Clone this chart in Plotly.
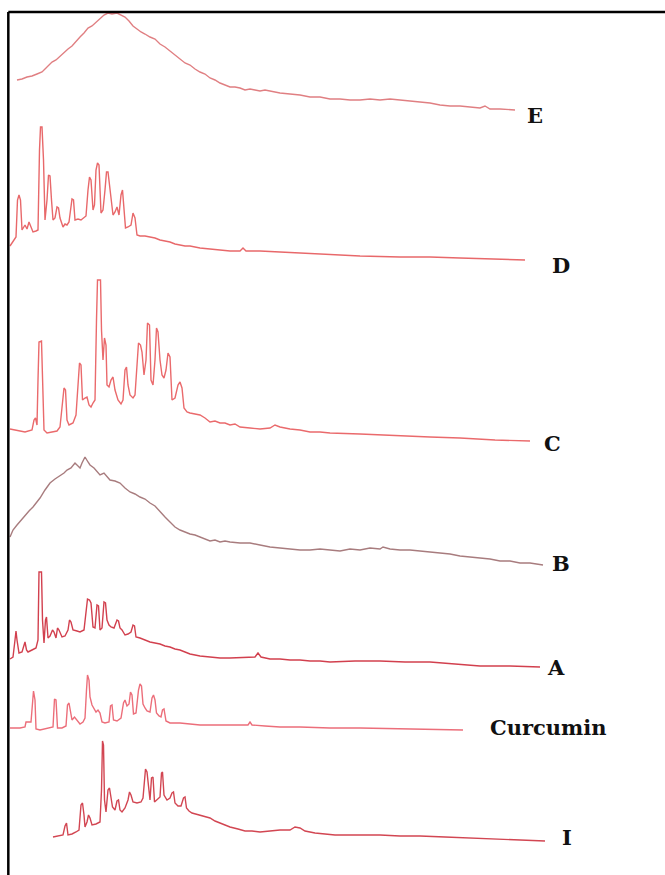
import plotly.graph_objects as go

# ---- Data: XRD patterns, (2-theta in degrees, intensity in a.u.) ----
samples = ["E", "D", "C", "B", "A", "Curcumin", "I"]

pattern_E = [
    (4.7, 32), (5.2, 33), (5.7, 35), (6.2, 36), (6.7, 38), (7.2, 40), (7.5, 43), (7.8, 46),
    (8.2, 50), (8.6, 52), (9.0, 56), (9.4, 59), (9.8, 63), (10.2, 66), (10.6, 71), (11.0, 75),
    (11.4, 79), (11.8, 84), (12.2, 86), (12.6, 90), (13.0, 93), (13.4, 97), (13.8, 99),
    (14.2, 98), (14.7, 99), (15.1, 97), (15.5, 95), (15.9, 91), (16.3, 86), (16.7, 83),
    (17.1, 80), (17.5, 78), (18.0, 75), (18.5, 73), (19.0, 68), (19.5, 65), (20.0, 61),
    (20.5, 57), (21.0, 53), (21.5, 49), (22.0, 47), (22.5, 43), (23.0, 40), (23.5, 38),
    (24.0, 34), (24.5, 32), (25.0, 29), (25.5, 27), (26.0, 25), (26.5, 25), (27.0, 24),
    (27.5, 22), (28.0, 23), (28.5, 22), (29.0, 21), (29.5, 22), (30.0, 21), (31.0, 19),
    (32.0, 18), (33.0, 17), (34.0, 15), (35.0, 15), (36.0, 13), (37.0, 13), (38.0, 12),
    (39.0, 12), (40.0, 13), (41.0, 12), (42.0, 13), (43.0, 12), (44.0, 11), (45.0, 10),
    (46.0, 9), (47.0, 7), (48.0, 6), (49.0, 6), (50.0, 5), (51.0, 4), (51.5, 6), (52.0, 3),
    (53.0, 3), (54.5, 2),
]

pattern_D = [
    (4.0, 16), (4.4, 22), (4.6, 25), (4.75, 62), (4.9, 67), (5.05, 62), (5.2, 32), (5.5, 37),
    (5.7, 33), (5.9, 40), (6.1, 34), (6.3, 30), (6.6, 31), (6.8, 32), (6.95, 112), (7.05, 135),
    (7.2, 135), (7.35, 102), (7.5, 42), (7.7, 62), (7.85, 87), (8.0, 86), (8.15, 62), (8.3, 42),
    (8.5, 44), (8.7, 55), (8.85, 54), (9.0, 44), (9.3, 35), (9.5, 38), (9.7, 37), (9.9, 40),
    (10.2, 63), (10.35, 62), (10.5, 42), (10.8, 43), (11.1, 42), (11.4, 44), (11.6, 46),
    (11.8, 72), (11.95, 85), (12.1, 82), (12.2, 62), (12.3, 52), (12.45, 57), (12.6, 92),
    (12.75, 99), (12.9, 97), (13.1, 49), (13.3, 52), (13.5, 72), (13.65, 90), (13.8, 90),
    (13.95, 77), (14.1, 65), (14.3, 47), (14.5, 50), (14.7, 55), (14.9, 47), (15.1, 67),
    (15.25, 72), (15.4, 52), (15.55, 34), (15.8, 35), (16.1, 37), (16.3, 49), (16.5, 44),
    (16.7, 27), (17.0, 26), (17.5, 26), (18.0, 25), (18.5, 24), (19.0, 22), (19.5, 21),
    (20.0, 20), (20.5, 18), (21.0, 17), (21.5, 16), (22.0, 16), (22.5, 15), (23.0, 14),
    (24.0, 13), (25.0, 12), (26.0, 11), (27.0, 11), (27.3, 14), (27.6, 11), (29.0, 11),
    (31.0, 10), (33.0, 9), (36.0, 7), (39.0, 6), (43.0, 5), (46.0, 5), (49.0, 4), (52.0, 3),
    (55.5, 2),
]

pattern_C = [
    (4.0, 13), (5.0, 11), (5.5, 10), (6.2, 12), (6.4, 22), (6.55, 24), (6.7, 17), (6.8, 62),
    (6.9, 100), (7.15, 101), (7.25, 62), (7.4, 12), (7.7, 9), (8.2, 10), (8.7, 11), (9.0, 15),
    (9.2, 32), (9.4, 54), (9.55, 52), (9.7, 22), (9.9, 17), (10.3, 19), (10.6, 27), (10.8, 52),
    (10.95, 79), (11.1, 77), (11.25, 42), (11.5, 44), (11.7, 45), (11.9, 37), (12.1, 35),
    (12.3, 39), (12.5, 42), (12.65, 122), (12.75, 162), (13.05, 162), (13.15, 112), (13.3, 82),
    (13.45, 104), (13.6, 97), (13.7, 57), (13.9, 55), (14.1, 62), (14.3, 65), (14.5, 52),
    (14.8, 42), (15.1, 38), (15.3, 42), (15.5, 72), (15.65, 75), (15.8, 57), (16.0, 47),
    (16.3, 44), (16.5, 47), (16.7, 72), (16.85, 99), (17.05, 97), (17.2, 90), (17.4, 67),
    (17.6, 82), (17.75, 119), (17.95, 117), (18.1, 62), (18.3, 57), (18.5, 82), (18.65, 114),
    (18.8, 110), (19.0, 82), (19.2, 67), (19.4, 64), (19.6, 72), (19.8, 89), (20.0, 85),
    (20.2, 42), (20.5, 44), (20.8, 57), (21.0, 60), (21.2, 54), (21.4, 34), (21.7, 30),
    (22.0, 29), (22.5, 28), (23.0, 27), (23.5, 24), (24.0, 20), (24.5, 21), (25.0, 19),
    (25.5, 19), (26.0, 17), (26.5, 18), (27.0, 15), (28.0, 14), (29.0, 13), (30.0, 14),
    (30.5, 17), (31.0, 15), (32.0, 13), (33.0, 12), (34.0, 10), (35.0, 10), (36.0, 9),
    (39.0, 8), (43.0, 6), (46.0, 5), (49.0, 4), (52.5, 2), (56.0, 1),
]

pattern_B = [
    (4.0, 29), (4.3, 36), (4.7, 41), (5.1, 46), (5.5, 51), (5.9, 55), (6.3, 59), (6.7, 64),
    (7.0, 68), (7.5, 76), (8.0, 83), (8.5, 87), (9.0, 90), (9.4, 93), (9.7, 96), (10.1, 98),
    (10.5, 103), (10.8, 100), (11.0, 98), (11.2, 103), (11.5, 109), (11.8, 104), (12.0, 101),
    (12.4, 98), (12.7, 94), (13.0, 91), (13.4, 93), (13.7, 89), (14.0, 86), (14.5, 85),
    (15.0, 83), (15.5, 78), (16.0, 74), (16.5, 72), (17.0, 69), (17.5, 67), (18.0, 63),
    (18.5, 60), (19.0, 54), (19.5, 49), (20.0, 44), (20.5, 39), (21.0, 36), (21.5, 34),
    (22.0, 32), (22.5, 31), (23.0, 29), (23.5, 27), (24.0, 25), (24.5, 26), (25.0, 24),
    (25.5, 25), (26.0, 24), (27.0, 23), (28.0, 23), (29.0, 21), (30.0, 19), (31.0, 18),
    (32.0, 17), (33.0, 16), (34.0, 16), (35.0, 17), (36.0, 16), (37.0, 15), (38.0, 17),
    (39.0, 16), (40.0, 18), (41.0, 17), (41.3, 19), (42.0, 17), (43.0, 16), (44.0, 16),
    (45.0, 15), (46.0, 14), (47.0, 13), (48.0, 12), (49.0, 10), (50.0, 9), (51.0, 8),
    (52.0, 7), (53.0, 5), (54.0, 5), (55.0, 3), (56.0, 3), (57.3, 1),
]

pattern_A = [
    (4.0, 9), (4.3, 11), (4.5, 28), (4.6, 37), (4.7, 28), (4.9, 15), (5.2, 16), (5.4, 23),
    (5.5, 26), (5.65, 18), (5.8, 16), (6.2, 18), (6.6, 20), (6.8, 28), (6.9, 96), (7.15, 96),
    (7.25, 48), (7.4, 25), (7.55, 48), (7.65, 51), (7.8, 30), (8.0, 32), (8.25, 38), (8.4, 36),
    (8.6, 30), (8.75, 40), (8.9, 38), (9.2, 31), (9.5, 32), (9.8, 38), (9.95, 48), (10.1, 46),
    (10.3, 38), (10.7, 37), (11.0, 36), (11.4, 38), (11.65, 58), (11.75, 69), (11.95, 68),
    (12.1, 65), (12.3, 41), (12.5, 40), (12.7, 63), (12.85, 62), (13.0, 38), (13.2, 40),
    (13.4, 66), (13.55, 65), (13.7, 48), (13.9, 43), (14.1, 41), (14.4, 40), (14.7, 48),
    (14.85, 47), (15.0, 40), (15.2, 38), (15.5, 33), (15.8, 34), (16.1, 36), (16.3, 43),
    (16.45, 42), (16.6, 31), (17.0, 30), (17.5, 28), (18.0, 26), (18.5, 25), (19.0, 24),
    (19.5, 22), (20.0, 21), (20.5, 19), (21.0, 18), (21.5, 16), (22.0, 14), (22.5, 13),
    (23.0, 12), (24.0, 11), (25.0, 10), (26.0, 10), (27.5, 11), (28.5, 11), (28.8, 15),
    (29.1, 11), (30.0, 9), (31.0, 9), (32.0, 8), (33.0, 8), (34.0, 7), (35.0, 7), (36.0, 6),
    (38.5, 7), (41.0, 7), (43.5, 6), (46.0, 6), (48.5, 4), (51.0, 2), (54.0, 2), (57.0, 1),
]

pattern_Curcumin = [
    (4.0, 3), (5.0, 3), (5.5, 4), (5.6, 9), (6.1, 9), (6.25, 31), (6.35, 40), (6.5, 31),
    (6.6, 2), (7.0, 1), (7.5, 2), (8.0, 3), (8.3, 4), (8.45, 32), (8.6, 31), (8.75, 3),
    (9.2, 3), (9.6, 5), (9.75, 26), (9.9, 28), (10.05, 19), (10.2, 11), (10.45, 14), (10.7, 11),
    (11.0, 7), (11.3, 9), (11.5, 13), (11.65, 41), (11.75, 56), (11.9, 51), (12.0, 34),
    (12.2, 26), (12.4, 23), (12.6, 19), (12.8, 21), (13.0, 18), (13.2, 9), (13.5, 8), (13.9, 9),
    (14.05, 25), (14.2, 26), (14.35, 11), (14.7, 10), (15.1, 13), (15.35, 28), (15.5, 31),
    (15.7, 25), (15.9, 27), (16.05, 39), (16.2, 36), (16.35, 17), (16.6, 18), (16.85, 41),
    (17.0, 47), (17.15, 45), (17.3, 27), (17.5, 23), (17.7, 20), (18.0, 19), (18.2, 33),
    (18.35, 36), (18.5, 31), (18.65, 18), (18.9, 15), (19.1, 14), (19.25, 21), (19.4, 22),
    (19.6, 10), (20.0, 8), (20.5, 8), (21.0, 8), (22.0, 7), (23.0, 6), (24.5, 6), (26.0, 6),
    (27.8, 6), (28.0, 9), (28.2, 6), (29.5, 5), (31.0, 4), (33.0, 4), (36.0, 3), (39.0, 3),
    (43.0, 2), (46.0, 2), (49.3, 1),
]

pattern_I = [
    (8.3, 5), (8.8, 6), (9.3, 7), (9.5, 16), (9.65, 19), (9.8, 7), (10.2, 8), (10.6, 10),
    (10.9, 12), (11.1, 37), (11.25, 39), (11.4, 27), (11.5, 15), (11.7, 20), (11.85, 27),
    (12.0, 24), (12.2, 17), (12.6, 18), (13.0, 20), (13.15, 52), (13.25, 101), (13.35, 97),
    (13.45, 42), (13.6, 30), (13.8, 52), (13.95, 54), (14.1, 42), (14.25, 35), (14.5, 32),
    (14.7, 41), (14.85, 42), (15.0, 32), (15.2, 30), (15.5, 34), (15.8, 42), (15.95, 50),
    (16.1, 47), (16.3, 40), (16.7, 39), (17.1, 40), (17.3, 44), (17.45, 67), (17.55, 73),
    (17.7, 70), (17.85, 52), (18.0, 42), (18.15, 64), (18.3, 65), (18.45, 40), (18.7, 42),
    (19.0, 45), (19.15, 69), (19.25, 70), (19.4, 47), (19.7, 42), (20.0, 44), (20.2, 49),
    (20.35, 50), (20.5, 39), (20.8, 36), (21.1, 36), (21.35, 44), (21.5, 45), (21.65, 34),
    (21.9, 31), (22.2, 29), (22.6, 28), (23.0, 27), (23.5, 25), (24.0, 24), (24.5, 21),
    (25.0, 19), (25.5, 17), (26.0, 15), (26.8, 13), (27.5, 11), (28.2, 11), (29.0, 10),
    (30.0, 11), (31.0, 12), (32.0, 12), (32.5, 15), (33.0, 14), (33.5, 11), (34.5, 9),
    (35.5, 8), (36.5, 7), (38.5, 7), (41.0, 7), (43.0, 6), (45.0, 6), (47.5, 5), (50.0, 4),
    (53.0, 3), (55.0, 2), (57.5, 1),
]

patterns = {
    "E": pattern_E, "D": pattern_D, "C": pattern_C, "B": pattern_B,
    "A": pattern_A, "Curcumin": pattern_Curcumin, "I": pattern_I,
}

# ---- Layout / style (stack offsets, label placement, colours) ----
stack_offset = {"E": 763, "D": 613, "C": 433, "B": 309, "A": 207, "Curcumin": 144, "I": 33}
label_pos = {  # (2-theta of label left edge, stacked y of label centre)
    "E": (55.5, 760), "D": (58.0, 610), "C": (57.2, 432), "B": (58.0, 312),
    "A": (57.5, 208), "Curcumin": (51.8, 148), "I": (59.0, 38),
}
colors = {
    "E": "#e07f82", "D": "#e8686a", "C": "#ea6a6c", "B": "#a87c7e",
    "A": "#d2404e", "Curcumin": "#ec6e7a", "I": "#d24652",
}

fig = go.Figure()
for s in samples:
    tt = [p[0] for p in patterns[s]]
    inten = [p[1] + stack_offset[s] for p in patterns[s]]
    fig.add_trace(go.Scatter(
        x=tt, y=inten, mode="lines", name=s,
        line=dict(color=colors[s], width=1.4),
        showlegend=False, hoverinfo="skip",
    ))
    lx, ly = label_pos[s]
    fig.add_annotation(
        x=lx, y=ly, xref="x", yref="y", text=f"<b>{s}</b>", showarrow=False,
        xanchor="left", yanchor="middle",
        font=dict(family="DejaVu Serif", size=21, color="#111111"),
    )

# frame (left and top edges visible)
fig.add_shape(type="line", xref="paper", yref="paper", x0=0.0125, x1=0.0125, y0=0, y1=0.9863,
              line=dict(color="black", width=2.5))
fig.add_shape(type="line", xref="paper", yref="paper", x0=0.0125, x1=1.0, y0=0.9863, y1=0.9863,
              line=dict(color="black", width=2.5))

fig.update_layout(
    width=665, height=875,
    margin=dict(l=0, r=0, t=0, b=0),
    paper_bgcolor="white", plot_bgcolor="white",
    xaxis=dict(range=[3.0, 69.5], visible=False, showgrid=False, zeroline=False),
    yaxis=dict(range=[0, 875], visible=False, showgrid=False, zeroline=False),
)

fig.write_html("out.html", config={"displayModeBar": False},
               post_script="document.body.style.margin='0';")
